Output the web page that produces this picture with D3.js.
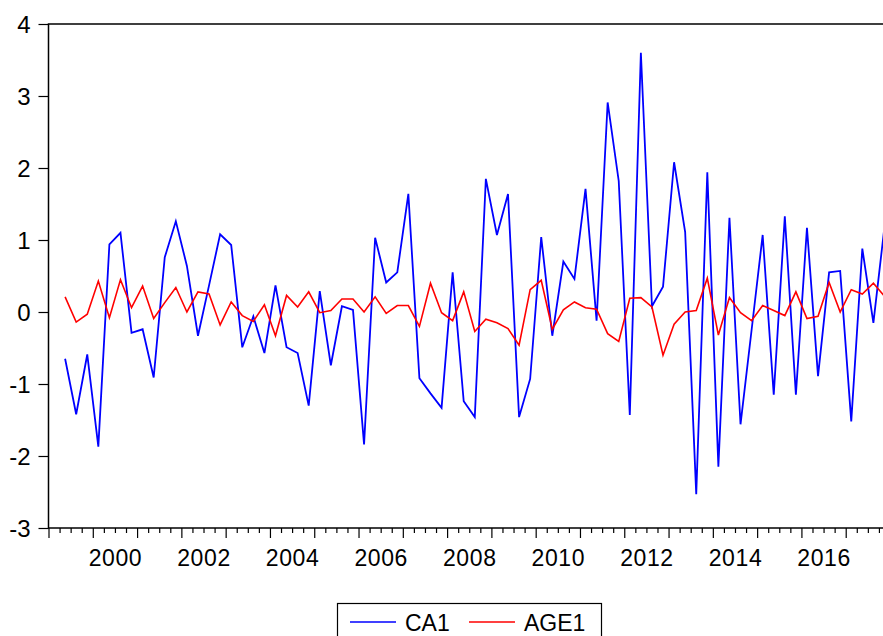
<!DOCTYPE html>
<html>
<head>
<meta charset="utf-8">
<script src="https://cdn.jsdelivr.net/npm/d3@7"></script>
<style>
  html, body { margin: 0; padding: 0; background: #fff; }
  svg { display: block; }
  text { font-family: "Liberation Sans", Arial, sans-serif; fill: #000; }
</style>
</head>
<body>
<svg id="chart" width="883" height="636"></svg>
<script>
// ---- data (quarterly, first observation 1999Q2) ----
const startYear = 1999;
const startQuarter = 2;
const seriesNames = ["CA1", "AGE1"];
const seriesColors = ["#0000ff", "#ff0000"];
const ca1 = [-0.65, -1.42, -0.59, -1.87, 0.94, 1.10, -0.29, -0.24, -0.91, 0.76,
  1.26, 0.64, -0.33, 0.37, 1.08, 0.93, -0.49, -0.06, -0.57, 0.37,
  -0.49, -0.57, -1.30, 0.29, -0.74, 0.08, 0.03, -1.84, 1.03, 0.41,
  0.55, 1.64, -0.92, -1.13, -1.33, 0.55, -1.24, -1.46, 1.85, 1.07,
  1.64, -1.46, -0.93, 1.04, -0.33, 0.70, 0.46, 1.71, -0.12, 2.91,
  1.82, -1.43, 3.60, 0.08, 0.35, 2.08, 1.11, -2.53, 1.94, -2.15,
  1.31, -1.56, -0.25, 1.07, -1.15, 1.33, -1.15, 1.17, -0.89, 0.55,
  0.57, -1.52, 0.88, -0.15, 1.18];
const age1 = [0.21, -0.14, -0.03, 0.43, -0.08, 0.45, 0.06, 0.36, -0.09, 0.13,
  0.34, 0.00, 0.28, 0.25, -0.18, 0.14, -0.05, -0.13, 0.10, -0.33,
  0.23, 0.07, 0.28, -0.01, 0.02, 0.18, 0.18, 0.00, 0.21, -0.02,
  0.09, 0.09, -0.20, 0.40, -0.01, -0.12, 0.28, -0.27, -0.10, -0.15,
  -0.23, -0.46, 0.31, 0.44, -0.24, 0.03, 0.14, 0.06, 0.04, -0.30,
  -0.41, 0.19, 0.20, 0.07, -0.60, -0.17, 0.00, 0.02, 0.47, -0.32,
  0.20, -0.01, -0.12, 0.09, 0.02, -0.05, 0.28, -0.09, -0.06, 0.41,
  0.00, 0.31, 0.25, 0.40, 0.22];
const yTicks = [4, 3, 2, 1, 0, -1, -2, -3];
const xLabelYears = [2000, 2002, 2004, 2006, 2008, 2010, 2012, 2014, 2016];
const xDomain = [1999, 2018];
const yDomain = [-3, 4];

// ---- layout ----
const svg = d3.select("#chart");
const pLeft = 48.5, pTop = 24, pBottom = 528, pRight = 890;
const x = d3.scaleLinear().domain(xDomain).range([pLeft, pRight]);
const y = d3.scaleLinear().domain(yDomain).range([pBottom, pTop]);

const timeOf = i => startYear + (startQuarter - 1 + i + 0.5) / 4;

// y axis ticks & labels
const yAxis = d3.axisLeft(y).tickValues(yTicks).tickSize(10).tickPadding(8)
  .tickFormat(d => String(d));
const gy = svg.append("g").attr("transform", `translate(${pLeft},0)`).call(yAxis);
gy.select(".domain").remove();
gy.selectAll(".tick line").attr("stroke", "#000").attr("stroke-width", 1.2);
gy.selectAll(".tick text").attr("font-size", 24).attr("font-family", "Liberation Sans, Arial, sans-serif")
  .attr("fill", "#000").attr("dy", "0.36em");

// x axis: minor (quarter) ticks and major (year) ticks
const quarterTicks = d3.range(xDomain[0], xDomain[1] + 0.001, 0.25);
const xMinor = d3.axisBottom(x).tickValues(quarterTicks.filter(t => Math.abs(t - Math.round(t)) > 1e-6))
  .tickSize(5).tickFormat("");
const gxm = svg.append("g").attr("transform", `translate(0,${pBottom})`).call(xMinor);
gxm.select(".domain").remove();
gxm.selectAll(".tick line").attr("stroke", "#000").attr("stroke-width", 1.2);

const xMajor = d3.axisBottom(x).tickValues(d3.range(xDomain[0], xDomain[1] + 1)).tickSize(10).tickFormat("");
const gxM = svg.append("g").attr("transform", `translate(0,${pBottom})`).call(xMajor);
gxM.select(".domain").remove();
gxM.selectAll(".tick line").attr("stroke", "#000").attr("stroke-width", 1.2);

// x labels centered in the year interval
const xLab = d3.axisBottom(x).tickValues(xLabelYears.map(v => v + 0.5)).tickSize(0).tickPadding(22)
  .tickFormat(d => String(Math.floor(d)));
const gxl = svg.append("g").attr("transform", `translate(0,${pBottom})`).call(xLab);
gxl.select(".domain").remove();
gxl.selectAll(".tick text").attr("font-size", 23).attr("font-family", "Liberation Sans, Arial, sans-serif")
  .attr("fill", "#000").attr("letter-spacing", "0.6px");

// lines
svg.append("clipPath").attr("id", "clip").append("rect")
  .attr("x", pLeft).attr("y", pTop).attr("width", pRight - pLeft).attr("height", pBottom - pTop);
const line = d3.line().x((d, i) => x(timeOf(i))).y(d => y(d));
[ca1, age1].forEach((s, k) => {
  svg.append("path").datum(s).attr("d", line)
    .attr("fill", "none").attr("stroke", seriesColors[k]).attr("stroke-width", k === 0 ? 1.8 : 1.6)
    .attr("stroke-linejoin", "miter").attr("clip-path", "url(#clip)");
});

// frame
svg.append("rect").attr("x", pLeft).attr("y", pTop).attr("width", pRight - pLeft).attr("height", pBottom - pTop)
  .attr("fill", "none").attr("stroke", "#000").attr("stroke-width", 1.5);

// legend
const lg = svg.append("g");
lg.append("rect").attr("x", 337.5).attr("y", 603.5).attr("width", 264).attr("height", 50)
  .attr("fill", "#fff").attr("stroke", "#000").attr("stroke-width", 1.2);
const legendItems = [{x1: 350, x2: 396, tx: 405}, {x1: 469, x2: 515, tx: 524}];
legendItems.forEach((it, k) => {
  lg.append("line").attr("x1", it.x1).attr("x2", it.x2).attr("y1", 622).attr("y2", 622)
    .attr("stroke", seriesColors[k]).attr("stroke-width", 1.5);
  lg.append("text").attr("x", it.tx).attr("y", 631).attr("font-size", 23).text(seriesNames[k]);
});
</script>
</body>
</html>
